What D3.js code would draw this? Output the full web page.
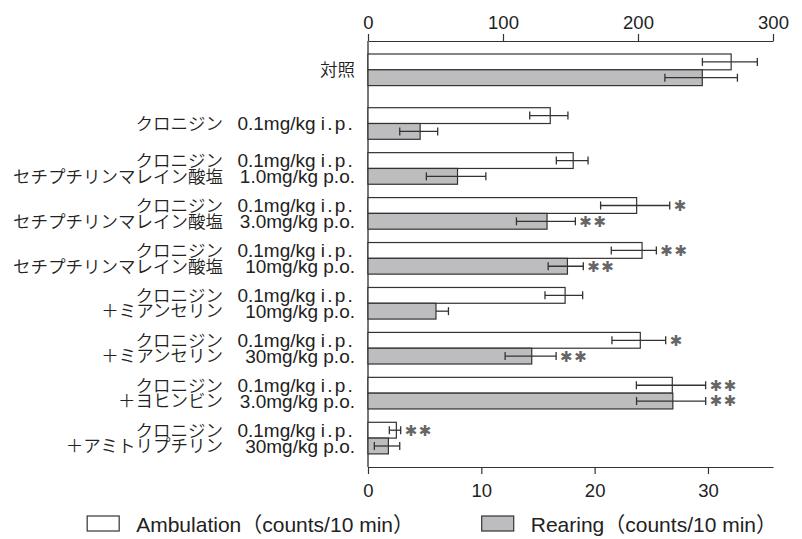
<!DOCTYPE html>
<html><head><meta charset="utf-8">
<script src="https://cdn.jsdelivr.net/npm/d3@7"></script>
<style>
body{margin:0;background:#fff}
svg{display:block}
text{font-family:"Liberation Sans",Arial,"Noto Sans CJK JP",sans-serif;fill:#222}
.jp{font-family:"Noto Sans CJK JP",sans-serif;font-weight:350}
</style>
</head><body>
<svg id="c" width="802" height="539"></svg>
<script>
// ---- data ----
const categories = ["対照","クロニジン","クロニジン+セチプチリン1.0","クロニジン+セチプチリン3.0","クロニジン+セチプチリン10","クロニジン+ミアンセリン10","クロニジン+ミアンセリン30","クロニジン+ヨヒンビン3.0","クロニジン+アミトリプチリン30"];
const nameLines = [["対照"],["クロニジン"],["クロニジン","セチプチリンマレイン酸塩"],["クロニジン","セチプチリンマレイン酸塩"],["クロニジン","セチプチリンマレイン酸塩"],["クロニジン","＋ミアンセリン"],["クロニジン","＋ミアンセリン"],["クロニジン","＋ヨヒンビン"],["クロニジン","＋アミトリプチリン"]];
const doseLines = [[""],["0.1mg/kg i.p."],["0.1mg/kg i.p.","1.0mg/kg p.o."],["0.1mg/kg i.p.","3.0mg/kg p.o."],["0.1mg/kg i.p.","10mg/kg p.o."],["0.1mg/kg i.p.","10mg/kg p.o."],["0.1mg/kg i.p.","30mg/kg p.o."],["0.1mg/kg i.p.","3.0mg/kg p.o."],["0.1mg/kg i.p.","30mg/kg p.o."]];
const ambulation     = [269, 135, 152, 199, 203, 146, 201.7, 225.4, 21];
const ambulationLow  = [247.7, 119.8, 139.5, 172.3, 180.2, 131.1, 180.7, 198.8, 15.8];
const ambulationHigh = [288.4, 148.1, 163, 223.5, 213.6, 159, 220.5, 250.1, 24.2];
const rearing     = [29.5, 4.6, 7.9, 15.8, 17.6, 6.0, 14.45, 26.9, 1.8];
const rearingLow  = [26.2, 2.8, 5.15, 13.1, 15.9, 6.0, 12.1, 23.7, 0.56];
const rearingHigh = [32.6, 6.15, 10.4, 18.3, 19.0, 7.1, 16.6, 29.8, 2.8];
const ambulationSig = ["", "", "", "✱", "✱✱", "", "✱", "✱✱", "✱✱"];
const rearingSig    = ["", "", "", "✱✱", "✱✱", "", "✱✱", "✱✱", ""];
const ambTicks = [0, 100, 200, 300];
const rearTicks = [0, 10, 20, 30];
const legendLabels = ["Ambulation（counts/10 min）", "Rearing（counts/10 min）"];

// ---- layout ----
const svg = d3.select("#c");
const X0 = 368, X1 = 773, AXT = 41, AXB = 467;
const xAmb = d3.scaleLinear().domain([0, 300]).range([X0, X1]);
const xRear = d3.scaleLinear().domain([0, 35.74]).range([X0, X1]);
const slot = i => i === 0 ? 0 : i + 0.195;
const yTop = d3.scaleLinear().domain([0, 8.195]).range([54, 422.3]);
const barH = 15.8;
const GRAY = "#bdbdc0", STROKE = "#333";
const FS = 18.5;

// axes
const gTop = svg.append("g").attr("transform", `translate(0,${AXT})`)
  .call(d3.axisTop(xAmb).tickValues(ambTicks).tickSize(7).tickSizeOuter(0).tickPadding(5));
const gBot = svg.append("g").attr("transform", `translate(0,${AXB})`)
  .call(d3.axisBottom(xRear).tickValues(rearTicks).tickSize(7).tickSizeOuter(0).tickPadding(10));
[gTop, gBot].forEach(g => {
  g.select(".domain").attr("stroke", STROKE).attr("stroke-width", 1.2);
  g.selectAll(".tick line").attr("stroke", STROKE).attr("stroke-width", 1.2);
  g.selectAll(".tick text").attr("font-size", FS).attr("font-family", null).style("fill", "#222");
});
svg.append("line").attr("x1", X0).attr("x2", X0).attr("y1", AXT).attr("y2", AXB)
  .attr("stroke", "#777").attr("stroke-width", 2);

// bars
const idx = d3.range(categories.length);
svg.append("g").selectAll("rect").data(idx).join("rect")
  .attr("x", X0).attr("y", i => yTop(slot(i)))
  .attr("width", i => xAmb(ambulation[i]) - X0).attr("height", barH)
  .attr("fill", "#fff").attr("stroke", STROKE).attr("stroke-width", 1.2);
svg.append("g").selectAll("rect").data(idx).join("rect")
  .attr("x", X0).attr("y", i => yTop(slot(i)) + barH)
  .attr("width", i => xRear(rearing[i]) - X0).attr("height", barH)
  .attr("fill", GRAY).attr("stroke", STROKE).attr("stroke-width", 1.2);

// error bars + significance
function errors(lo, hi, val, sig, scale, yoff) {
  const g = svg.append("g").attr("stroke", STROKE).attr("stroke-width", 1.3);
  idx.forEach(i => {
    const yc = yTop(slot(i)) + yoff + barH / 2;
    const a = scale(lo[i]), b = scale(hi[i]);
    g.append("line").attr("x1", a).attr("x2", b).attr("y1", yc).attr("y2", yc);
    if (lo[i] < val[i]) g.append("line").attr("x1", a).attr("x2", a).attr("y1", yc - 4).attr("y2", yc + 4);
    g.append("line").attr("x1", b).attr("x2", b).attr("y1", yc - 4).attr("y2", yc + 4);
    if (sig[i]) svg.append("text").attr("x", b + 4).attr("y", yc).attr("dy", "0.36em")
      .attr("font-size", 15).style("font-family", '"DejaVu Sans",sans-serif')
      .attr("letter-spacing", 1.5).style("fill", "#666").text(sig[i]);
  });
}
errors(ambulationLow, ambulationHigh, ambulation, ambulationSig, xAmb, 0);
errors(rearingLow, rearingHigh, rearing, rearingSig, xRear, barH);

// category labels
const gl = svg.append("g");
idx.forEach(i => {
  const n = nameLines[i].length;
  const ys = n === 1 ? [yTop(slot(i)) + barH] : [yTop(slot(i)) + barH / 2, yTop(slot(i)) + barH * 1.5];
  nameLines[i].forEach((nm, k) => {
    const single = doseLines[i][k] === "";
    gl.append("text").attr("class", "jp").attr("font-size", 17.5)
      .attr("x", single ? 355 : 223).attr("y", ys[k]).attr("dy", "0.36em")
      .attr("text-anchor", "end").text(nm);
    if (!single) {
      const t = gl.append("text").attr("font-size", 19).attr("x", 355).attr("y", ys[k]).attr("dy", "0.36em")
        .attr("text-anchor", "end");
      const parts = doseLines[i][k].split(" ");
      t.append("tspan").text(parts[0] + " ");
      t.append("tspan").attr("letter-spacing", parts[1] === "i.p." ? 2.2 : 0).text(parts[1]);
    }
  });
});

// legend
const lg = svg.append("g").attr("font-size", 21);
const legTextEnd = [414, 777], legFill = ["#fff", GRAY];
legendLabels.forEach((t, k) => {
  const tx = lg.append("text").attr("x", legTextEnd[k]).attr("y", 532).attr("text-anchor", "end").text(t);
  const x0 = legTextEnd[k] - tx.node().getComputedTextLength();
  lg.append("rect").attr("x", x0 - 49).attr("y", 516).attr("width", 32).attr("height", 15)
    .attr("fill", legFill[k]).attr("stroke", STROKE).attr("stroke-width", 1.2);
});
</script>
</body></html>
